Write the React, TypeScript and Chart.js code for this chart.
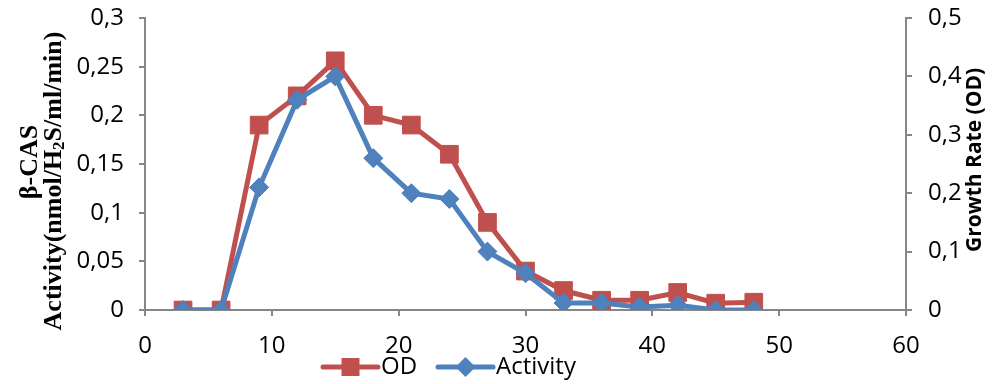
import React, { useEffect, useRef } from 'react';
import { Chart, registerables } from 'chart.js';

Chart.register(...registerables);

const days = [3, 6, 9, 12, 15, 18, 21, 24, 27, 30, 33, 36, 39, 42, 45, 48];
const odValues = [0, 0, 0.19, 0.22, 0.256, 0.2, 0.19, 0.16, 0.09, 0.04, 0.02, 0.01, 0.01, 0.018, 0.007, 0.008];
const activityValues = [0, 0, 0.21, 0.36, 0.4, 0.26, 0.2, 0.19, 0.1, 0.063, 0.012, 0.012, 0.005, 0.008, 0, 0];
const leftTitle1 = 'β-CAS';
const leftTitle2a = 'Activity(nmol/H';
const leftTitle2b = '2';
const leftTitle2c = 'S/ml/min)';
const rightTitle = 'Growth Rate (OD)';
const seriesNames = ['OD', 'Activity'];

const RED = '#C0504D';
const BLUE = '#4F81BD';
const AXIS = '#868686';
const TICK_FONT = { family: '"Open Sans"', size: 24 };

const fmt = (v: number) => String(Number(v.toFixed(3))).replace('.', ',');

const overlay = {
  id: 'overlay',
  afterDraw(chart: any) {
    const ctx = chart.ctx as CanvasRenderingContext2D;
    ctx.save();
    ctx.fillStyle = '#000';
    ctx.textBaseline = 'middle';
    // left title line 1
    ctx.save();
    ctx.translate(30, 162);
    ctx.rotate(-Math.PI / 2);
    ctx.font = 'bold 26px "Liberation Serif"';
    ctx.textAlign = 'center';
    ctx.fillText(leftTitle1, 0, 0);
    ctx.restore();
    // left title line 2 with subscript
    ctx.save();
    ctx.translate(54, 181);
    ctx.rotate(-Math.PI / 2);
    const big = 'bold 26px "Liberation Serif"';
    const small = 'bold 17px "Liberation Serif"';
    ctx.font = big;
    const wa = ctx.measureText(leftTitle2a).width;
    const wc = ctx.measureText(leftTitle2c).width;
    ctx.font = small;
    const wb = ctx.measureText(leftTitle2b).width;
    const total = wa + wb + wc;
    let x = -total / 2;
    ctx.textAlign = 'left';
    ctx.font = big;
    ctx.fillText(leftTitle2a, x, 0);
    x += wa;
    ctx.font = small;
    ctx.fillText(leftTitle2b, x, 6);
    x += wb;
    ctx.font = big;
    ctx.fillText(leftTitle2c, x, 0);
    ctx.restore();
    // right title
    ctx.save();
    ctx.translate(975, 160);
    ctx.rotate(-Math.PI / 2);
    ctx.font = 'bold 21px "Open Sans"';
    ctx.textAlign = 'center';
    ctx.fillText(rightTitle, 0, 0);
    ctx.restore();
    // legend
    const ly = 367;
    const items = [
      { name: seriesNames[0], color: RED, x0: 323, x1: 378, style: 'square' },
      { name: seriesNames[1], color: BLUE, x0: 438, x1: 493, style: 'diamond' },
    ];
    for (const it of items) {
      ctx.strokeStyle = it.color;
      ctx.fillStyle = it.color;
      ctx.lineWidth = 5;
      ctx.lineCap = 'round';
      ctx.beginPath();
      ctx.moveTo(it.x0, ly);
      ctx.lineTo(it.x1, ly);
      ctx.stroke();
      const cx = (it.x0 + it.x1) / 2;
      ctx.beginPath();
      if (it.style === 'square') {
        ctx.rect(cx - 9, ly - 9, 18, 18);
      } else {
        ctx.moveTo(cx, ly - 10);
        ctx.lineTo(cx + 10, ly);
        ctx.lineTo(cx, ly + 10);
        ctx.lineTo(cx - 10, ly);
        ctx.closePath();
      }
      ctx.fill();
      ctx.fillStyle = '#000';
      ctx.font = '24px "Open Sans"';
      ctx.textAlign = 'left';
      ctx.fillText(it.name, it.x1 + 3, ly);
    }
    ctx.restore();
  },
};

const noPad = (s: any) => {
  s.paddingTop = 0;
  s.paddingBottom = 0;
  s.paddingLeft = 0;
  s.paddingRight = 0;
};

export default function App() {
  const ref = useRef<HTMLCanvasElement | null>(null);
  useEffect(() => {
    document.body.style.margin = '0';
    const canvas = ref.current!;
    const chart = new Chart(canvas, {
      type: 'line',
      data: {
        datasets: [
          {
            label: seriesNames[0],
            data: days.map((d, i) => ({ x: d, y: odValues[i] })),
            borderColor: RED,
            backgroundColor: RED,
            borderWidth: 5,
            pointStyle: 'rect',
            pointRadius: 12.5,
            pointBorderWidth: 1,
            yAxisID: 'y',
            order: 2,
          },
          {
            label: seriesNames[1],
            data: days.map((d, i) => ({ x: d, y: activityValues[i] })),
            borderColor: BLUE,
            backgroundColor: BLUE,
            borderWidth: 5,
            pointStyle: 'rectRot',
            pointRadius: 9.5,
            pointBorderWidth: 1,
            yAxisID: 'y1',
            order: 1,
          },
        ],
      },
      options: {
        animation: false,
        responsive: false,
        maintainAspectRatio: false,
        layout: { padding: { top: 18, right: 0, left: 0, bottom: 0 } },
        plugins: { legend: { display: false }, tooltip: { enabled: false } },
        scales: {
          x: {
            type: 'linear',
            min: 0,
            max: 60,
            ticks: { stepSize: 10, color: '#000', font: TICK_FONT, padding: 16 },
            grid: { drawOnChartArea: false, color: AXIS, tickLength: 6, lineWidth: 2 },
            border: { color: AXIS, width: 2 },
            afterFit: (s: any) => { s.height = 74; noPad(s); },
          },
          y: {
            position: 'left',
            min: 0,
            max: 0.3,
            ticks: { stepSize: 0.05, color: '#000', font: TICK_FONT, padding: 15, callback: (v: any) => fmt(Number(v)) },
            grid: { drawOnChartArea: false, color: AXIS, tickLength: 6, lineWidth: 2 },
            border: { color: AXIS, width: 2 },
            afterFit: (s: any) => { s.width = 145; noPad(s); },
          },
          y1: {
            position: 'right',
            min: 0,
            max: 0.5,
            ticks: { stepSize: 0.1, color: '#000', font: TICK_FONT, padding: 16, callback: (v: any) => fmt(Number(v)) },
            grid: { drawOnChartArea: false, color: AXIS, tickLength: 6, lineWidth: 2 },
            border: { color: AXIS, width: 2 },
            afterFit: (s: any) => { s.width = 91; noPad(s); },
          },
        },
      },
      plugins: [overlay],
    });
    return () => chart.destroy();
  }, []);
  return <canvas ref={ref} width={997} height={384} style={{ display: 'block' }} />;
}
